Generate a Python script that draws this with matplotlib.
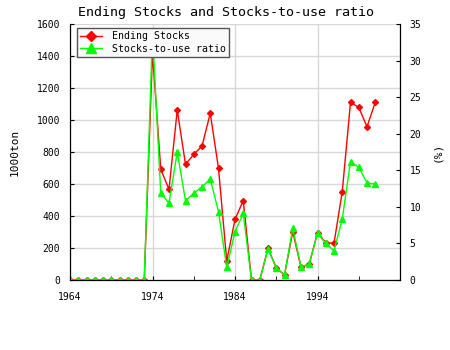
import matplotlib
matplotlib.use("Agg")
import matplotlib.pyplot as plt
from matplotlib.ticker import MultipleLocator, FixedLocator

years = list(range(1964, 2002))
ending_stocks = [0, 0, 0, 0, 0, 0, 0, 0, 0, 0,
                 1420, 692, 567, 1062, 723, 785, 837, 1042, 698, 119,
                 379, 496, 0, 0, 198, 77, 31, 302, 79, 100,
                 296, 233, 229, 552, 1110, 1079, 958, 1110]
stocks_to_use = [0, 0, 0, 0, 0, 0, 0, 0, 0, 0,
                 33.8, 11.9, 10.5, 17.5, 10.85, 11.85, 12.75, 13.8, 9.35, 1.73,
                 6.6, 9.1, 0, 0, 4.2, 1.68, 0.68, 7.07, 1.8, 2.19,
                 6.38, 5.0, 4.0, 8.3, 16.2, 15.4, 13.3, 13.1]
year_ticks = [1964, 1974, 1984, 1994]

plt.rcParams['font.family'] = ['DejaVu Sans Mono']

fig = plt.figure(figsize=(4.5, 3.5), dpi=100)
ax = fig.add_axes([70 / 450, 70 / 350, 330 / 450, 256 / 350])
ax2 = ax.twinx()

l1, = ax.plot(years, ending_stocks, color='#ff0000', lw=1, marker='D', ms=3,
              label='Ending Stocks')
l2, = ax2.plot(years, stocks_to_use, color='#00ff00', lw=1, marker='^', ms=4,
               label='Stocks-to-use ratio')

ax.set_xlim(1964, 2004)
ax.set_ylim(0, 1600)
ax2.set_ylim(0, 35)
ax.xaxis.set_major_locator(FixedLocator(year_ticks))
ax.xaxis.set_minor_locator(MultipleLocator(5, offset=4))
ax.yaxis.set_major_locator(MultipleLocator(200))
ax2.yaxis.set_major_locator(MultipleLocator(5))

ax.grid(True, color='#d8d8d8', lw=1)
ax.axvline(2004, color='#d8d8d8', lw=1)
ax.set_axisbelow(True)
for a in (ax, ax2):
    a.tick_params(direction='in', labelsize=7, length=3, pad=7)
    a.tick_params(which='minor', direction='in', length=3)
    a.spines['top'].set_visible(False)
ax.tick_params(axis='x', pad=9)

ax.set_ylabel('1000ton', fontsize=8, labelpad=12)
ax2.set_ylabel('(%)', fontsize=8, labelpad=8)
fig.text(0.503, 0.963, 'Ending Stocks and Stocks-to-use ratio', fontsize=9.6,
         ha='center', va='center')

leg = ax2.legend([l1, l2], ['Ending Stocks', 'Stocks-to-use ratio'],
                 loc='upper left', fontsize=7.1, fancybox=False,
                 edgecolor='#555555', facecolor='#fafafa', framealpha=1,
                 bbox_to_anchor=(7 / 330, 1 - 4 / 256), borderaxespad=0,
                 handlelength=2.2, handletextpad=1.0, borderpad=0.35,
                 labelspacing=0.25, markerscale=1.8)
leg.get_frame().set_linewidth(1)

fig.savefig('out.png', dpi=100)
